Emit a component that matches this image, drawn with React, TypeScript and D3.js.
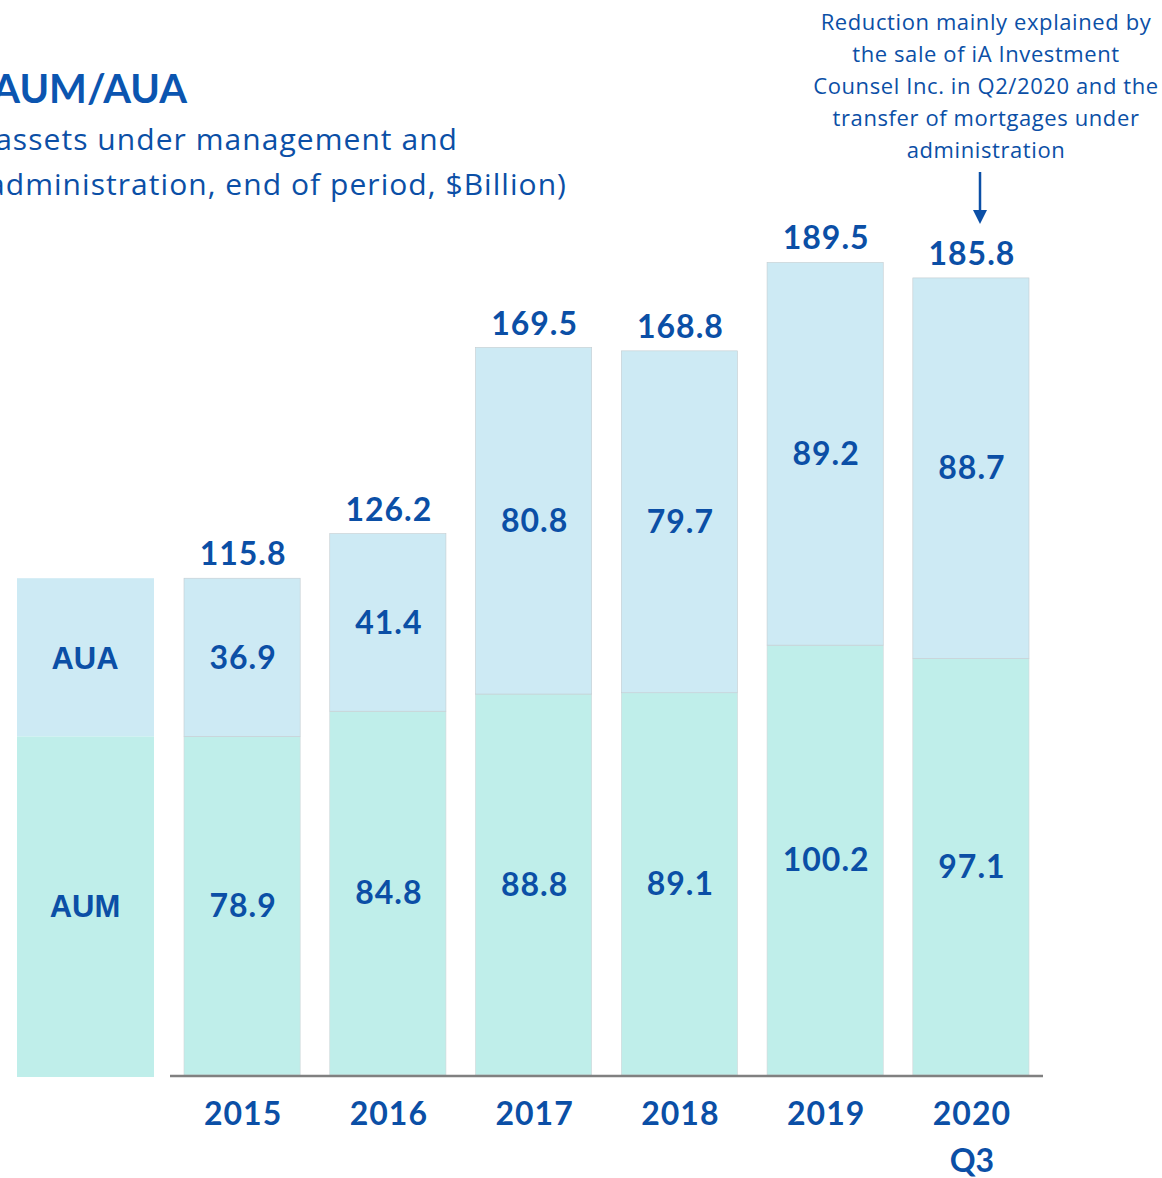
import React from 'react';
import * as d3 from 'd3';

const years = ['2015', '2016', '2017', '2018', '2019', '2020'];
const aum = [78.9, 84.8, 88.8, 89.1, 100.2, 97.1];
const aua = [36.9, 41.4, 80.8, 79.7, 89.2, 88.7];
const totals = [115.8, 126.2, 169.5, 168.8, 189.5, 185.8];
const yearSub = ['', '', '', '', '', 'Q3'];
const noteLines = [
  'Reduction mainly explained by',
  'the sale of iA Investment',
  'Counsel Inc. in Q2/2020 and the',
  'transfer of mortgages under',
  'administration',
];

const App = () => {
  const width = 1162;
  const height = 1178;
  const baseY = 1075;
  const blue = '#0B4FA6';
  const aumColor = '#BFEEEA';
  const auaColor = '#CDEAF4';
  const font = 'Lato, "Open Sans", sans-serif';
  const thin = '"Open Sans", Lato, sans-serif';
  const arial = '"Liberation Sans", Arial, sans-serif';

  const x = d3.scaleBand()
    .domain(years)
    .range([170, 1043])
    .paddingInner(0.203)
    .paddingOuter(0.096);

  const y = d3.scaleLinear()
    .domain([0, 200])
    .range([baseY, baseY - 858]);

  const bw = x.bandwidth();
  const noteX = 983;

  return (
    <svg width={width} height={height} style={{ position: 'absolute', left: 0, top: 0, background: '#fff' }}>
      {/* title */}
      <text x={187} y={103} textAnchor='end' fill='#0B55B0' fontFamily={font} fontWeight={700} fontSize={40}>AUM/AUA</text>
      <text x={458} y={150} textAnchor='end' fill={blue} fontFamily={thin} fontSize={30} letterSpacing={1.05}>(assets under management and</text>
      <text x={567} y={195} textAnchor='end' fill={blue} fontFamily={thin} fontSize={30} letterSpacing={1.05}>administration, end of period, $Billion)</text>

      {/* annotation */}
      {noteLines.map((l, i) =>
        <text key={`note-${i}`} x={noteX + 3} y={30 + i * 32} textAnchor='middle' fill={blue} fontFamily={thin} fontSize={22} letterSpacing={0.6}>{l}</text>
      )}
      <line x1={980} x2={980} y1={172} y2={214} stroke={blue} strokeWidth={2.5} />
      <path d='M973,210 L987,210 L980,224 Z' fill={blue} />

      {/* legend box */}
      <rect x={17} y={y(aum[0] + aua[0])} width={137} height={y(aum[0]) - y(aum[0] + aua[0])} fill={auaColor} />
      <rect x={17} y={y(aum[0])} width={137} height={baseY + 2 - y(aum[0])} fill={aumColor} />
      <text x={85} y={(y(aum[0] + aua[0]) + y(aum[0])) / 2} dy='0.36em' textAnchor='middle' fill={blue} fontFamily={arial} fontWeight={700} fontSize={31}>AUA</text>
      <text x={85} y={(y(aum[0]) + baseY) / 2} dy='0.36em' textAnchor='middle' fill={blue} fontFamily={arial} fontWeight={700} fontSize={31}>AUM</text>

      {/* bars */}
      {years.map((yr, i) => {
        const bx = x(yr) as number;
        const cx = bx + bw / 2 + 1;
        const top = y(aum[i] + aua[i]);
        const mid = y(aum[i]);
        return (
          <g key={`bar-${yr}`}>
            <rect x={bx} y={mid} width={bw} height={baseY - mid} fill={aumColor} stroke='#d0d6d8' strokeWidth={0.6} />
            <rect x={bx} y={top} width={bw} height={mid - top} fill={auaColor} stroke='#c4ccd0' strokeWidth={0.6} />
            <text x={cx} y={(top + mid) / 2} dy='0.35em' textAnchor='middle' fill={blue} fontFamily={font} fontWeight={700} fontSize={32} letterSpacing={1}>{aua[i]}</text>
            <text x={cx} y={(mid + baseY) / 2} dy='0.35em' textAnchor='middle' fill={blue} fontFamily={font} fontWeight={700} fontSize={32} letterSpacing={1}>{aum[i]}</text>
            <text x={cx} y={y(totals[i])} dy={-13} textAnchor='middle' fill={blue} stroke='#fff' strokeWidth={3} paintOrder='stroke' fontFamily={font} fontWeight={700} fontSize={32} letterSpacing={1}>{totals[i].toFixed(1)}</text>
            <text x={cx} y={1125} textAnchor='middle' fill={blue} fontFamily={font} fontWeight={700} fontSize={32} letterSpacing={1}>{yr}</text>
            {yearSub[i] && <text x={cx} y={1172} textAnchor='middle' fill={blue} fontFamily={font} fontWeight={700} fontSize={32}>{yearSub[i]}</text>}
          </g>
        );
      })}

      {/* baseline */}
      <line x1={170} x2={1043} y1={baseY + 1} y2={baseY + 1} stroke='#808080' strokeWidth={2.5} />
    </svg>
  );
};

export default App;
